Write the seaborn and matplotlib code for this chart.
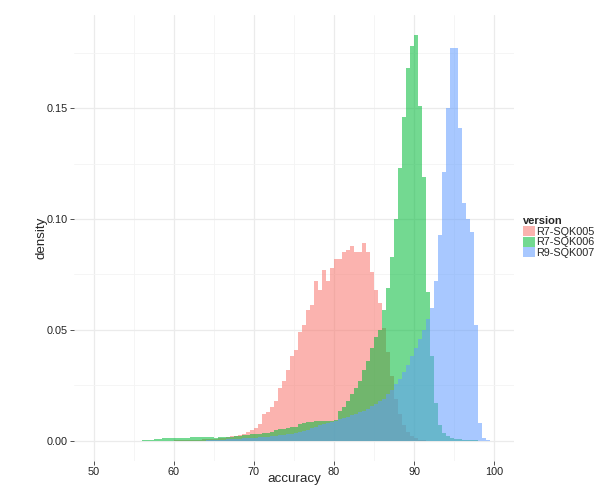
import numpy as np
import pandas as pd
import matplotlib
matplotlib.use("Agg")
import matplotlib.pyplot as plt
from matplotlib.patches import Patch
from matplotlib.ticker import MultipleLocator, AutoMinorLocator
import seaborn as sns

# histogram bins (width 0.5) and density per bin
bin_start, bin_stop, bin_width = 55.0, 100.0, 0.5

versions = ["R7-SQK005", "R7-SQK006", "R9-SQK007"]
colors = ["#F8766D", "#00BA38", "#619CFF"]

# one value per bin, bins starting at 55.0, 55.5, ..., 99.5
r7_sqk005 = [
    0, 0, 0, 0, 0, 0, 0, 0, 0, 0,
    0.0002, 0.0002, 0.0003, 0.0003, 0.0004, 0.0004, 0.0005, 0.0006, 0.0007, 0.0008,
    0.0009, 0.0010, 0.0012, 0.0016, 0.0020, 0.0022, 0.0026, 0.0032, 0.0040, 0.0050,
    0.0058, 0.0075, 0.0120, 0.0130, 0.0150, 0.0180, 0.0240, 0.0270, 0.0320, 0.0380,
    0.0410, 0.0490, 0.0520, 0.0590, 0.0610, 0.0720, 0.0680, 0.0770, 0.0720, 0.0780,
    0.0820, 0.0820, 0.0850, 0.0860, 0.0880, 0.0850, 0.0850, 0.0890, 0.0850, 0.0760,
    0.0680, 0.0620, 0.0510, 0.0400, 0.0290, 0.0190, 0.0120, 0.0070, 0.0040, 0.0020,
    0.0010, 0.0005, 0.0002, 0, 0, 0, 0, 0, 0, 0,
    0, 0, 0, 0, 0, 0, 0, 0, 0, 0,
]
r7_sqk006 = [
    0, 0, 0.0002, 0.0004, 0.0005, 0.0006, 0.0008, 0.0010, 0.0013, 0.0011,
    0.0012, 0.0012, 0.0013, 0.0014, 0.0015, 0.0016, 0.0018, 0.0017, 0.0017, 0.0015,
    0.0014, 0.0015, 0.0016, 0.0018, 0.0019, 0.0020, 0.0022, 0.0024, 0.0026, 0.0029,
    0.0030, 0.0032, 0.0033, 0.0035, 0.0038, 0.0050, 0.0052, 0.0055, 0.0058, 0.0060,
    0.0062, 0.0075, 0.0080, 0.0083, 0.0086, 0.0088, 0.0090, 0.0088, 0.0087, 0.0090,
    0.0095, 0.0135, 0.0150, 0.0180, 0.0210, 0.0240, 0.0270, 0.0320, 0.0360, 0.0420,
    0.0470, 0.0500, 0.0590, 0.0690, 0.0830, 0.1000, 0.1230, 0.1460, 0.1680, 0.1780,
    0.1830, 0.1510, 0.1190, 0.0670, 0.0380, 0.0170, 0.0070, 0.0035, 0.0020, 0.0012,
    0.0008, 0.0006, 0.0004, 0.0003, 0.0002, 0.0001, 0, 0, 0, 0,
]
r9_sqk007 = [
    0, 0, 0, 0, 0, 0, 0, 0, 0, 0,
    0, 0, 0, 0, 0, 0, 0, 0, 0.0002, 0.0003,
    0.0003, 0.0004, 0.0005, 0.0006, 0.0007, 0.0008, 0.0009, 0.0010, 0.0011, 0.0012,
    0.0013, 0.0015, 0.0016, 0.0018, 0.0020, 0.0022, 0.0024, 0.0026, 0.0029, 0.0032,
    0.0035, 0.0038, 0.0042, 0.0050, 0.0058, 0.0064, 0.0070, 0.0075, 0.0080, 0.0085,
    0.0090, 0.0096, 0.0102, 0.0108, 0.0114, 0.0120, 0.0128, 0.0136, 0.0145, 0.0155,
    0.0165, 0.0177, 0.0190, 0.0210, 0.0230, 0.0255, 0.0280, 0.0310, 0.0340, 0.0380,
    0.0420, 0.0460, 0.0500, 0.0550, 0.0600, 0.0720, 0.0930, 0.1210, 0.1500, 0.1770,
    0.1770, 0.1410, 0.1070, 0.1000, 0.0940, 0.0520, 0.0080, 0.0010, 0.0003, 0,
]

x_ticks = [50, 60, 70, 80, 90, 100]
y_ticks = [0.00, 0.05, 0.10, 0.15]

# long table: one row per bin and version (x = bin centre)
centers = np.arange(bin_start, bin_stop, bin_width) + bin_width / 2
df = pd.concat([
    pd.DataFrame({"accuracy": centers, "density": vals, "version": name})
    for name, vals in zip(versions, [r7_sqk005, r7_sqk006, r9_sqk007])
], ignore_index=True)

sns.set_style("white")
plt.rcParams["font.family"] = ["Liberation Sans", "DejaVu Sans"]

fig = plt.figure(figsize=(6.04, 4.92), dpi=100)
ax = fig.add_axes([0.1225, 0.063, 0.7285, 0.9065])

alpha = 0.55
for name, col in zip(versions, colors):
    sub = df[df["version"] == name]
    sns.histplot(data=sub, x="accuracy", weights="density",
                 binwidth=bin_width, binrange=(bin_start, bin_stop),
                 color=col, alpha=alpha, linewidth=0, ax=ax)

ax.set_xlim(47.5, 102.5)
ax.set_ylim(-0.00915, 0.192)
ax.set_xticks(x_ticks)
ax.set_yticks(y_ticks)
ax.set_yticklabels([f"{v:.2f}" for v in y_ticks])
ax.xaxis.set_minor_locator(MultipleLocator(5))
ax.yaxis.set_minor_locator(AutoMinorLocator(2))

ax.set_axisbelow(True)
ax.grid(which="major", color="#EBEBEB", linewidth=0.9)
ax.grid(which="minor", color="#F4F4F4", linewidth=0.6)
for s in ax.spines.values():
    s.set_visible(False)

ax.tick_params(axis="both", which="major", length=2.8, width=0.6,
               color="#333333", labelsize=7.8, labelcolor="#222222",
               bottom=True, left=True)
ax.tick_params(axis="x", pad=1.5)
ax.tick_params(axis="y", pad=1.5)
ax.tick_params(which="minor", length=0)

ax.set_xlabel("accuracy", fontsize=9.6)
ax.set_ylabel("density", fontsize=9.6, labelpad=-0.5)
ax.xaxis.set_label_coords(0.5, -0.027)

handles = [Patch(facecolor=c, alpha=alpha, edgecolor="none") for c in colors]
leg = ax.legend(handles, versions, title="version", loc="center left",
                bbox_to_anchor=(0.866, 0.518), bbox_transform=fig.transFigure,
                frameon=False, fontsize=7.8, handlelength=1.1, handleheight=1.0,
                handletextpad=0.15, labelspacing=0.0, borderpad=0,
                borderaxespad=0, alignment="left",
                title_fontproperties={"weight": "bold", "size": 8})

fig.savefig("out.png", dpi=100)
